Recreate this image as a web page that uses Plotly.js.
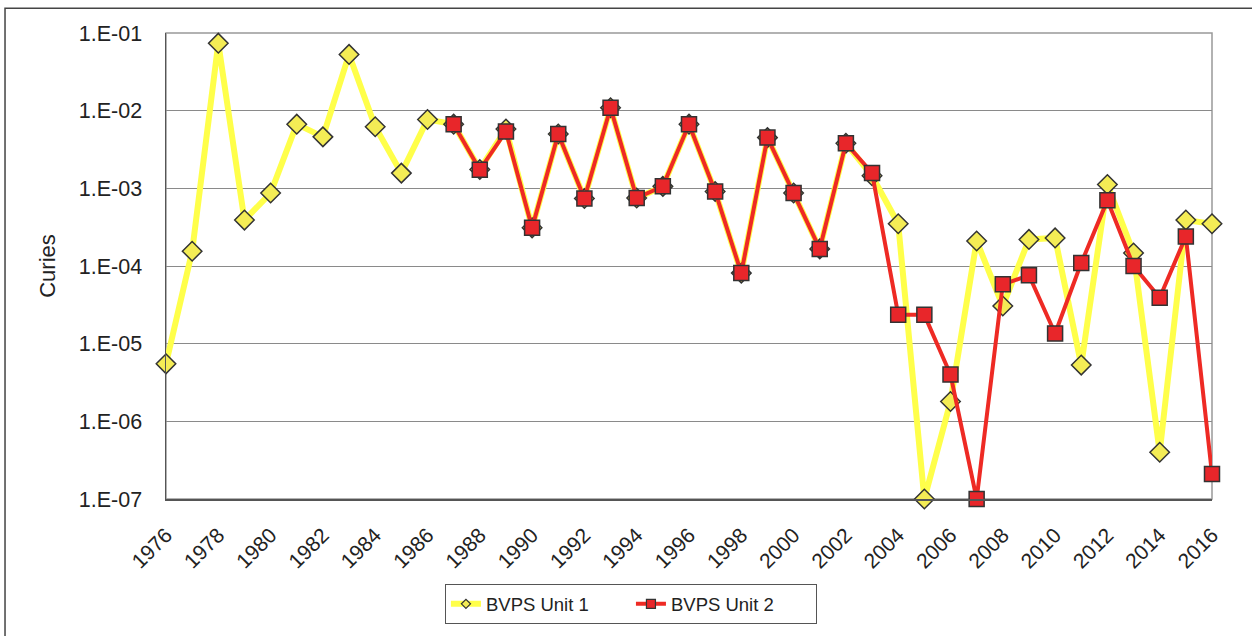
<!DOCTYPE html>
<html>
<head>
<meta charset="utf-8">
<script src="https://cdn.plot.ly/plotly-3.0.1.min.js"></script>
<style>html,body{margin:0;padding:0;background:#fff;}#chart{width:1252px;height:636px;}</style>
</head>
<body>
<div id="chart"></div>
<script>
// Years (category axis)
const years = [1976,1977,1978,1979,1980,1981,1982,1983,1984,1985,1986,1987,1988,1989,1990,1991,1992,1993,1994,1995,1996,1997,1998,1999,2000,2001,2002,2003,2004,2005,2006,2007,2008,2009,2010,2011,2012,2013,2014,2015,2016];
// BVPS Unit 1 (Curies)
const unit1 = [5.5e-6,1.55e-4,7.4e-2,3.9e-4,8.7e-4,6.7e-3,4.6e-3,5.3e-2,6.2e-3,1.57e-3,7.7e-3,6.7e-3,1.75e-3,5.8e-3,3.1e-4,5.0e-3,7.4e-4,1.09e-2,7.5e-4,1.06e-3,6.7e-3,9.1e-4,8.1e-5,4.5e-3,8.7e-4,1.66e-4,3.8e-3,1.45e-3,3.5e-4,1.0e-7,1.8e-6,2.1e-4,3.05e-5,2.2e-4,2.3e-4,5.3e-6,1.12e-3,1.47e-4,4.0e-7,3.9e-4,3.5e-4];
// BVPS Unit 2 years and values (Curies)
const years2 = [1987,1988,1989,1990,1991,1992,1993,1994,1995,1996,1997,1998,1999,2000,2001,2002,2003,2004,2005,2006,2007,2008,2009,2010,2011,2012,2013,2014,2015,2016];
const unit2 = [6.7e-3,1.73e-3,5.4e-3,3.1e-4,5.0e-3,7.4e-4,1.09e-2,7.5e-4,1.06e-3,6.7e-3,9.1e-4,8.1e-5,4.5e-3,8.7e-4,1.66e-4,3.8e-3,1.58e-3,2.35e-5,2.35e-5,4.0e-6,1.0e-7,5.8e-5,7.6e-5,1.35e-5,1.09e-4,7.0e-4,1.0e-4,3.9e-5,2.4e-4,2.1e-7];
// Axis ticks
const yTickVals = [1e-7,1e-6,1e-5,1e-4,1e-3,1e-2,1e-1];
const yTickText = ["1.E-07","1.E-06","1.E-05","1.E-04","1.E-03","1.E-02","1.E-01"];
const xTickVals = [1976,1978,1980,1982,1984,1986,1988,1990,1992,1994,1996,1998,2000,2002,2004,2006,2008,2010,2012,2014,2016];
const seriesNames = ["BVPS Unit 1","BVPS Unit 2"];

const yellowLine = '#FFFF4A', yellowFill = '#F4EC55';
const redLine = '#EE2A24', redFill = '#E8262A';

const traces = [
  {
    x: years, y: unit1, name: seriesNames[0], type: 'scatter', mode: 'lines+markers',
    line: {color: yellowLine, width: 6},
    marker: {symbol: 'diamond', size: 15, color: yellowFill, line: {color: '#333', width: 1.5}},
    cliponaxis: false, showlegend: false
  },
  {
    x: years2, y: unit2, name: seriesNames[1], type: 'scatter', mode: 'lines+markers',
    line: {color: redLine, width: 4},
    marker: {symbol: 'square', size: 15, color: redFill, line: {color: '#333', width: 1.5}},
    cliponaxis: false, showlegend: false
  },
  // legend entries (small symbols as in the original legend)
  {
    x: [null], y: [null], name: seriesNames[0], type: 'scatter', mode: 'lines+markers',
    line: {color: yellowLine, width: 6},
    marker: {symbol: 'diamond', size: 7, color: yellowFill, line: {color: '#333', width: 1.2}}
  },
  {
    x: [null], y: [null], name: seriesNames[1], type: 'scatter', mode: 'lines+markers',
    line: {color: redLine, width: 4},
    marker: {symbol: 'square', size: 9, color: redFill, line: {color: '#333', width: 1.2}}
  }
];

const font = {family: 'Liberation Sans, Arial, sans-serif', color: '#222'};

const layout = {
  width: 1252, height: 636,
  margin: {l: 166, r: 40, t: 33, b: 133},
  paper_bgcolor: '#fff', plot_bgcolor: '#fff',
  font: font,
  showlegend: true,
  xaxis: {
    type: 'linear', range: [1976, 2016], tickvals: xTickVals, tickangle: -45,
    tickfont: {family: font.family, size: 21, color: '#222'},
    showgrid: false, zeroline: false, showline: true, linecolor: '#555', linewidth: 1.5,
    ticks: '', ticklabelstandoff: 14
  },
  yaxis: {
    type: 'log', range: [-7, -1], tickvals: yTickVals, ticktext: yTickText,
    tickfont: {family: font.family, size: 21.5, color: '#222'},
    showgrid: true, gridcolor: '#8a8a8a', gridwidth: 1,
    zeroline: false, showline: true, linecolor: '#555', linewidth: 1.5,
    ticks: '', ticklabelstandoff: 18,
    title: {text: 'Curies', font: {family: font.family, size: 22, color: '#222'}, standoff: 17}
  },
  legend: {
    orientation: 'h', x: 0.4445, xanchor: 'center', y: -0.183, yanchor: 'top',
    bordercolor: '#555', borderwidth: 1, bgcolor: '#fff',
    entrywidth: 140,
    font: {family: font.family, size: 18.5, color: '#222'}
  },
  shapes: [
    {type: 'rect', xref: 'paper', yref: 'paper', x0: 0, x1: 1, y0: 0, y1: 1,
     line: {color: '#999', width: 1.5}, layer: 'below'},
    {type: 'rect', xref: 'paper', yref: 'paper', x0: -0.1539, x1: 1.06, y0: -0.4, y1: 1.0532,
     line: {color: '#444', width: 1.5}, layer: 'below'}
  ]
};

Plotly.newPlot('chart', traces, layout, {displayModeBar: false, staticPlot: true});
</script>
</body>
</html>
